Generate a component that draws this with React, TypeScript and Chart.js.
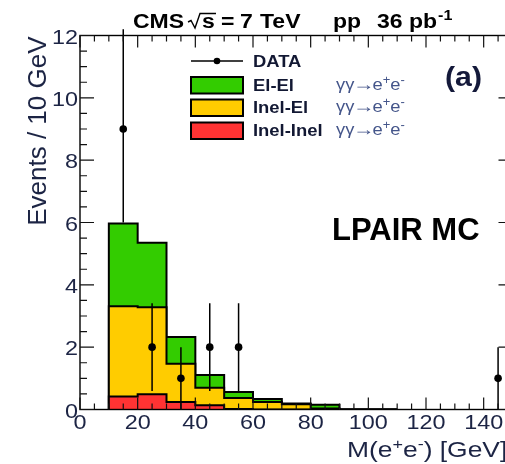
import React, { useEffect, useRef } from "react";
import { Chart, registerables } from "chart.js";

Chart.register(...registerables);

// ---- data ----
const binEdges = [10, 20, 30, 40, 50, 60, 70, 80, 90, 100, 110];
const elEl = [2.66, 2.07, 0.86, 0.41, 0.19, 0.1, 0.02, 0.12, 0, 0];
const inelEl = [2.89, 2.79, 1.23, 0.56, 0.35, 0.24, 0.17, 0.03, 0, 0];
const inelInel = [0.42, 0.49, 0.24, 0.14, 0.02, 0, 0, 0, 0, 0];

const dataX = [15, 25, 35, 45, 55, 145];
const dataY = [9, 2, 1, 2, 2, 1];
const dataErrLow = [6, 0.59, 0, 0.59, 0.59, 0];
const dataErrHigh = [12.2, 3.41, 2, 3.41, 3.41, 2];

const xTickLabels = ["0", "20", "40", "60", "80", "100", "120", "140"];
const yTickLabels = ["0", "2", "4", "6", "8", "10", "12"];

const GREEN = "#33cc00";
const YELLOW = "#ffcc00";
const RED = "#ff3333";
const FONT = '"Liberation Sans", Arial, Helvetica, sans-serif';

function stepPoints(vals: number[]) {
  const pts: { x: number; y: number }[] = [{ x: binEdges[0], y: 0 }];
  vals.forEach((v, i) => pts.push({ x: binEdges[i], y: v }));
  pts.push({ x: binEdges[binEdges.length - 1], y: 0 });
  return pts;
}

type Part = { t: string; font: string; dy?: number; color?: string; dx?: number; sx?: number };

function drawText(
  ctx: CanvasRenderingContext2D,
  s: string,
  x: number,
  y: number,
  font: string,
  sx: number,
  align: "left" | "center" | "right",
  color: string
) {
  ctx.save();
  ctx.font = font;
  ctx.fillStyle = color;
  ctx.textBaseline = "alphabetic";
  ctx.textAlign = "left";
  const w = ctx.measureText(s).width * sx;
  let ox = x;
  if (align === "center") ox = x - w / 2;
  if (align === "right") ox = x - w;
  ctx.translate(ox, y);
  ctx.scale(sx, 1);
  ctx.fillText(s, 0, 0);
  ctx.restore();
  return w;
}

function drawRich(ctx: CanvasRenderingContext2D, parts: Part[], x: number, y: number, sx: number, color: string) {
  let cx = x;
  for (const p of parts) {
    cx += p.dx || 0;
    cx += drawText(ctx, p.t, cx, y + (p.dy || 0), p.font, p.sx || sx, "left", p.color || color);
  }
  return cx;
}

const overlayPlugin = {
  id: "rootOverlay",
  afterDatasetsDraw(chart: any) {
    const ctx: CanvasRenderingContext2D = chart.ctx;
    const xs = chart.scales.x;
    const ys = chart.scales.y;
    const { left, right, top, bottom } = chart.chartArea;
    ctx.save();

    // frame
    ctx.strokeStyle = "#000";
    ctx.lineWidth = 1.4;
    ctx.strokeRect(left, top, right - left, bottom - top);

    // ticks
    ctx.lineWidth = 1.2;
    ctx.strokeStyle = "#111";
    ctx.beginPath();
    for (let v = xs.min; v <= xs.max + 1e-9; v += 5) {
      const px = xs.getPixelForValue(v);
      const len = v % 20 === 0 ? 12 : 6;
      ctx.moveTo(px, bottom);
      ctx.lineTo(px, bottom - len);
      ctx.moveTo(px, top);
      ctx.lineTo(px, top + len);
    }
    for (let v = ys.min; v <= ys.max + 1e-9; v += 0.5) {
      const py = ys.getPixelForValue(v);
      const len = v % 2 === 0 ? 14 : 7;
      ctx.moveTo(left, py);
      ctx.lineTo(left + len, py);
      ctx.moveTo(right, py);
      ctx.lineTo(right - len, py);
    }
    ctx.stroke();

    const tickColor = "#1c2444";
    const tickFont = `20px ${FONT}`;
    xTickLabels.forEach((lab) => {
      const px = xs.getPixelForValue(Number(lab));
      drawText(ctx, lab, px, 429, tickFont, 1.17, "center", tickColor);
    });
    yTickLabels.forEach((lab) => {
      const py = ys.getPixelForValue(Number(lab));
      drawText(ctx, lab, 78, py + 8, tickFont, 1.17, "right", tickColor);
    });

    // y title (rotated)
    ctx.save();
    ctx.translate(46, top + 1);
    ctx.rotate(-Math.PI / 2);
    drawText(ctx, "Events / 10 GeV", 0, 0, `26px ${FONT}`, 1.0, "right", tickColor);
    ctx.restore();

    // x title
    const xf = `22px ${FONT}`;
    const xsup = `15px ${FONT}`;
    drawRich(
      ctx,
      [
        { t: "M(e", font: xf },
        { t: "+", font: xsup, dy: -8 },
        { t: "e", font: xf },
        { t: "-", font: xsup, dy: -8 },
        { t: ") [GeV]", font: xf },
      ],
      347,
      456.5,
      1.2,
      tickColor
    );

    // top title
    const tf = `bold 20px ${FONT}`;
    const tsx = 1.15;
    drawText(ctx, "CMS", 133, 28, tf, tsx, "left", "#000");
    ctx.strokeStyle = "#000";
    ctx.lineWidth = 1.4;
    ctx.beginPath();
    ctx.moveTo(188, 22);
    ctx.lineTo(191, 20.5);
    ctx.lineTo(195, 28);
    ctx.lineTo(200, 13.5);
    ctx.lineTo(216, 13.5);
    ctx.stroke();
    drawText(ctx, "s", 202, 28, tf, tsx, "left", "#000");
    drawText(ctx, "=", 221, 28, tf, tsx, "left", "#000");
    drawText(ctx, "7", 240, 28, tf, tsx, "left", "#000");
    drawText(ctx, "TeV", 260, 28, tf, tsx, "left", "#000");
    drawText(ctx, "pp", 333, 28, tf, tsx, "left", "#000");
    const pbEnd = 377 + drawText(ctx, "36 pb", 377, 28, tf, tsx, "left", "#000");
    drawText(ctx, "-1", pbEnd + 1, 20, `bold 14px ${FONT}`, tsx, "left", "#000");

    // legend
    const lx0 = 191;
    const lx1 = 243;
    ctx.strokeStyle = "#000";
    ctx.lineWidth = 1.4;
    ctx.beginPath();
    ctx.moveTo(lx0, 61);
    ctx.lineTo(lx1, 61);
    ctx.stroke();
    ctx.fillStyle = "#000";
    ctx.beginPath();
    ctx.arc((lx0 + lx1) / 2, 61, 3.3, 0, Math.PI * 2);
    ctx.fill();
    const lf = `bold 16px ${FONT}`;
    const labColor = "#121833";
    drawText(ctx, "DATA", 253, 67, lf, 1.15, "left", labColor);
    const rows: [string, string, number][] = [
      ["El-El", GREEN, 77],
      ["Inel-El", YELLOW, 99.5],
      ["Inel-Inel", RED, 122.5],
    ];
    const gf = `17px ${FONT}`;
    const gsup = `12px ${FONT}`;
    rows.forEach(([name, col, yTop]) => {
      ctx.fillStyle = col;
      ctx.fillRect(lx0, yTop, lx1 - lx0, 16.5);
      ctx.lineWidth = 2;
      ctx.strokeStyle = "#000";
      ctx.strokeRect(lx0, yTop, lx1 - lx0, 16.5);
      drawText(ctx, name, 253, yTop + 13.7, lf, 1.15, "left", labColor);
      drawRich(
        ctx,
        [
          { t: "\u03b3\u03b3", font: gf },
          { t: "\u2192", font: `18px ${FONT}`, sx: 1.2, dx: -1.5 },
          { t: "e", font: gf, dx: -2 },
          { t: "+", font: gsup, dy: -6 },
          { t: "e", font: gf },
          { t: "-", font: gsup, dy: -6 },
        ],
        336,
        yTop + 12.5,
        1.08,
        "#44558a"
      );
    });

    // (a) and LPAIR MC
    drawText(ctx, "(a)", 445, 86, `bold 28px ${FONT}`, 1.08, "left", "#14193a");
    drawText(ctx, "LPAIR MC", 332, 239.5, `bold 31px ${FONT}`, 1.0, "left", "#000");

    ctx.restore();
  },
};

export default function App() {
  const ref = useRef<HTMLCanvasElement | null>(null);
  useEffect(() => {
    if (!ref.current) return;
    const total = elEl.map((v, i) => v + inelEl[i] + inelInel[i]);
    const yellowTop = inelEl.map((v, i) => v + inelInel[i]);
    const errPts: { x: number; y: number | null }[] = [];
    dataX.forEach((x, i) => {
      errPts.push({ x, y: dataErrLow[i] });
      errPts.push({ x, y: dataErrHigh[i] });
      errPts.push({ x, y: null });
    });

    const histDs = (label: string, vals: number[], color: string) => ({
      type: "line" as const,
      label,
      data: stepPoints(vals),
      stepped: "before" as const,
      fill: "origin",
      backgroundColor: color,
      borderColor: "#000",
      borderWidth: 2,
      pointRadius: 0,
      tension: 0,
    });

    const chart = new Chart(ref.current, {
      type: "line",
      data: {
        datasets: [
          {
            type: "scatter",
            label: "DATA",
            data: dataX.map((x, i) => ({ x, y: dataY[i] })),
            pointRadius: 3.8,
            pointBackgroundColor: "#000",
            pointBorderWidth: 0,
            showLine: false,
          } as any,
          {
            type: "line",
            label: "errors",
            data: errPts,
            borderColor: "#000",
            borderWidth: 1.5,
            pointRadius: 0,
            spanGaps: false,
            fill: false,
            clip: false,
          } as any,
          histDs("Inel-Inel", inelInel, RED),
          histDs("Inel-El", yellowTop, YELLOW),
          histDs("El-El", total, GREEN),
        ],
      },
      options: {
        responsive: false,
        animation: false,
        layout: { padding: { left: 80, top: 35.5, right: 17.5, bottom: 54.5 } },
        plugins: { legend: { display: false }, tooltip: { enabled: false } },
        scales: {
          x: { type: "linear", min: 0, max: 150, display: false },
          y: { type: "linear", min: 0, max: 12, display: false },
        },
      },
      plugins: [overlayPlugin],
    } as any);
    return () => chart.destroy();
  }, []);

  return (
    <div
      style={{
        position: "absolute",
        left: 0,
        top: 0,
        width: 505,
        height: 464,
        overflow: "hidden",
        background: "#fff",
      }}
    >
      <canvas ref={ref} width={530} height={464} style={{ display: "block" }} />
    </div>
  );
}
